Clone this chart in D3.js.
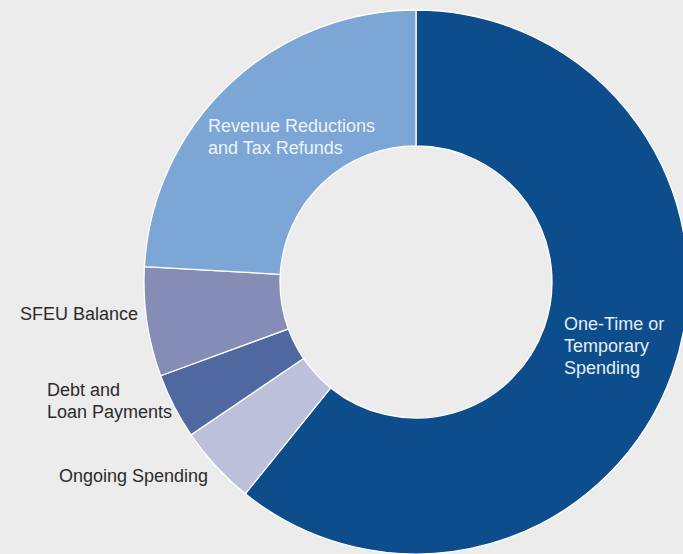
<!DOCTYPE html>
<html>
<head>
<meta charset="utf-8">
<script src="https://cdn.jsdelivr.net/npm/d3@7"></script>
<style>
  html, body { margin: 0; padding: 0; background: #ececec; }
  svg { display: block; }
  text { font-family: "Liberation Sans", Arial, sans-serif; }
</style>
</head>
<body>
<div id="viz-container"></div>
<script>
// shares of the total (percent)
let categories = ["One-Time or Temporary Spending", "Ongoing Spending", "Debt and Loan Payments", "SFEU Balance", "Revenue Reductions and Tax Refunds"];
let shares = [60.8, 4.7, 3.9, 6.5, 24.1];
let colors = ["#0d4d8b", "#bcc0da", "#5068a0", "#858db7", "#7ba6d6"];

// label lines, where they sit and how they look
let labelLines = [
    ["One-Time or", "Temporary", "Spending"],
    ["Ongoing Spending"],
    ["Debt and", "Loan Payments"],
    ["SFEU Balance"],
    ["Revenue Reductions", "and Tax Refunds"]
];
let labelPos = [[564, 330], [59, 482], [47, 396], [20, 320], [208, 132]];
let labelFill = ["#e6edf6", "#2b2b2b", "#2b2b2b", "#2b2b2b", "#eef3fa"];

let width = 683, height = 554;
let cx = 416, cy = 282, outerR = 272, innerR = 136;

let viz = d3.select("#viz-container")
    .append("svg")
        .attr("id", "viz")
        .attr("width", width)
        .attr("height", height)
        .style("background-color", "#ececec");

let data = categories.map((c, i) => ({ name: c, value: shares[i], i: i }));

let pie = d3.pie().value(d => d.value).sort(null);
let arc = d3.arc().innerRadius(innerR).outerRadius(outerR);

let donut = viz.append("g")
    .attr("transform", "translate(" + cx + "," + cy + ")");

donut.selectAll(".slice").data(pie(data)).enter().append("path")
    .attr("class", "slice")
    .attr("d", arc)
    .attr("fill", d => colors[d.data.i])
    .attr("stroke", "#ffffff")
    .attr("stroke-width", 1.3);

let labels = viz.selectAll(".label").data(data).enter().append("text")
    .attr("class", "label")
    .attr("x", d => labelPos[d.i][0])
    .attr("y", d => labelPos[d.i][1])
    .attr("fill", d => labelFill[d.i])
    .attr("font-size", "18px");

labels.selectAll("tspan").data(d => labelLines[d.i].map(t => ({ t: t, x: labelPos[d.i][0] })))
    .enter().append("tspan")
    .attr("x", d => d.x)
    .attr("dy", (d, j) => j === 0 ? 0 : 22)
    .text(d => d.t);
</script>
</body>
</html>
